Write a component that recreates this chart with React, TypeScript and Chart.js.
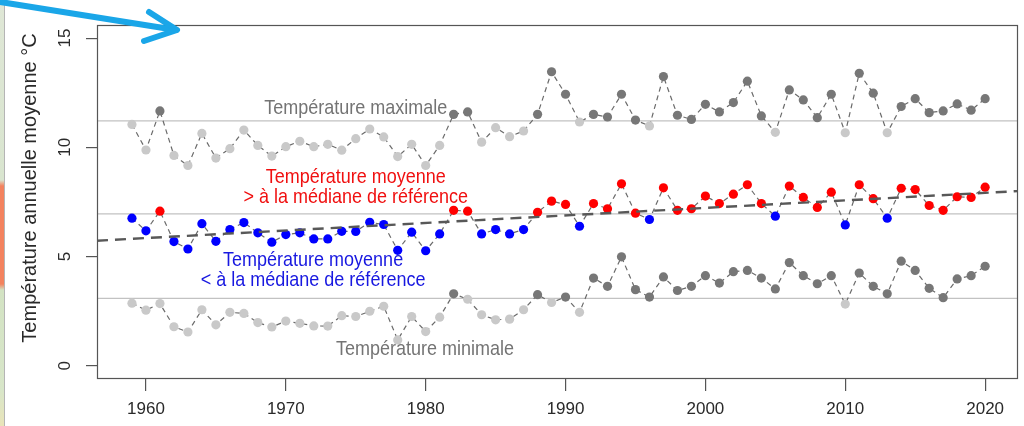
import React, { useEffect, useRef } from "react";
import { Chart, registerables } from "chart.js";

Chart.register(...registerables);

// ---------- DATA ----------
const years = [
  1959, 1960, 1961, 1962, 1963, 1964, 1965, 1966, 1967, 1968, 1969, 1970, 1971, 1972, 1973,
  1974, 1975, 1976, 1977, 1978, 1979, 1980, 1981, 1982, 1983, 1984, 1985, 1986, 1987, 1988,
  1989, 1990, 1991, 1992, 1993, 1994, 1995, 1996, 1997, 1998, 1999, 2000, 2001, 2002, 2003,
  2004, 2005, 2006, 2007, 2008, 2009, 2010, 2011, 2012, 2013, 2014, 2015, 2016, 2017, 2018,
  2019, 2020,
];

const tMax = [
  11.05, 9.88, 11.67, 9.63, 9.17, 10.64, 9.51, 9.94, 10.79, 10.09, 9.6, 10.03, 10.28, 10.03, 10.14,
  9.87, 10.4, 10.84, 10.48, 9.58, 10.14, 9.17, 10.09, 11.51, 11.62, 10.24, 10.9, 10.49, 10.75, 11.51,
  13.46, 12.43, 11.16, 11.51, 11.39, 12.43, 11.25, 10.98, 13.24, 11.47, 11.28, 11.97, 11.62, 12.05, 13.03,
  11.44, 10.69, 12.63, 12.17, 11.36, 12.43, 10.67, 13.39, 12.48, 10.67, 11.87, 12.23, 11.59, 11.67, 11.99,
  11.7, 12.23,
];

const tMean = [
  6.76, 6.18, 7.08, 5.69, 5.35, 6.51, 5.7, 6.24, 6.56, 6.09, 5.66, 6.01, 6.09, 5.81, 5.81,
  6.16, 6.15, 6.57, 6.47, 5.29, 6.12, 5.27, 6.04, 7.12, 7.08, 6.04, 6.24, 6.04, 6.24, 7.03,
  7.54, 7.39, 6.39, 7.43, 7.19, 8.33, 6.99, 6.7, 8.15, 7.12, 7.19, 7.77, 7.43, 7.86, 8.29,
  7.43, 6.85, 8.23, 7.71, 7.25, 7.95, 6.45, 8.29, 7.65, 6.76, 8.13, 8.07, 7.34, 7.12, 7.74,
  7.71, 8.18,
];

const tMin = [
  2.87, 2.55, 2.85, 1.79, 1.55, 2.57, 1.88, 2.45, 2.4, 1.98, 1.78, 2.05, 1.95, 1.83, 1.82,
  2.3, 2.26, 2.5, 2.73, 1.19, 2.26, 1.57, 2.23, 3.3, 3.05, 2.34, 2.11, 2.14, 2.57, 3.26,
  2.9, 3.15, 2.45, 4.02, 3.64, 4.99, 3.49, 3.15, 4.07, 3.45, 3.64, 4.13, 3.79, 4.31, 4.37,
  4.02, 3.52, 4.73, 4.13, 3.76, 4.13, 2.83, 4.25, 3.64, 3.3, 4.79, 4.37, 3.55, 3.12, 3.98,
  4.13, 4.56,
];

// reference (median) levels
const refMax = 11.21;
const refMean = 6.96;
const refMin = 3.09;

// linear trend of the mean temperature (end points at the plot edges)
const trendYears = [1956.5, 2022.35];
const trendValues = [5.73, 8.0];

const xTicks = [1960, 1970, 1980, 1990, 2000, 2010, 2020];
const yTicks = [0, 5, 10, 15];

const yTitle = "Température annuelle moyenne °C";
const labelMax = "Température maximale";
const labelMeanAbove = ["Température moyenne", "> à la médiane de référence"];
const labelMeanBelow = ["Température moyenne", "< à la médiane de référence"];
const labelMin = "Température minimale";

// ---------- STYLE ----------
const FONT = '"Liberation Sans", Arial, Helvetica, sans-serif';
const X_MIN = 1956.5;
const X_MAX = 2022.35;
const Y_MIN = -0.6;
const Y_MAX = 15.6;
const GREY_LIGHT = "#c9c9c9";
const GREY_DARK = "#777777";
const RED = "#ff0000";
const BLUE = "#0000ff";

const pts = (vals: number[]) => years.map((x, i) => ({ x, y: vals[i] }));
const hline = (v: number) => [
  { x: X_MIN, y: v },
  { x: X_MAX, y: v },
];

const seriesStyle = (colors: string[]) => ({
  borderColor: "#6a6a6a",
  borderWidth: 1.2,
  borderDash: [5, 4],
  pointRadius: 4.6,
  pointHoverRadius: 4.6,
  pointBackgroundColor: colors,
  pointBorderColor: colors,
  pointBorderWidth: 0,
  tension: 0,
  fill: false,
  order: 2,
});

const refStyle = {
  borderColor: "#c2c2c2",
  borderWidth: 1.3,
  pointRadius: 0,
  fill: false,
  order: 3,
};

const annotationPlugin = {
  id: "annotations",
  afterDraw(chart: any) {
    const { ctx, chartArea, scales } = chart;
    const xs = scales.x;
    const ys = scales.y;
    ctx.save();
    // box
    ctx.strokeStyle = "#555555";
    ctx.lineWidth = 1.2;
    ctx.strokeRect(
      chartArea.left + 0.5,
      chartArea.top + 0.5,
      chartArea.right - chartArea.left - 1,
      chartArea.bottom - chartArea.top - 1
    );
    // y tick labels (rotated, R style)
    ctx.fillStyle = "#2a2a2a";
    ctx.font = `17px ${FONT}`;
    ctx.textAlign = "center";
    ctx.textBaseline = "middle";
    yTicks.forEach((v) => {
      const py = ys.getPixelForValue(v);
      ctx.save();
      ctx.translate(65, py);
      ctx.rotate(-Math.PI / 2);
      ctx.fillText(String(v), 0, 0);
      ctx.restore();
    });
    // y title
    ctx.save();
    ctx.font = `20px ${FONT}`;
    ctx.translate(30, 188);
    ctx.rotate(-Math.PI / 2);
    ctx.fillText(yTitle, 0, 0);
    ctx.restore();

    // in-plot labels (slightly taller glyphs, like the source)
    ctx.textAlign = "center";
    ctx.textBaseline = "alphabetic";
    ctx.font = `18px ${FONT}`;
    const put = (text: string, xv: number, yv: number, color: string) => {
      ctx.save();
      ctx.fillStyle = color;
      ctx.translate(xs.getPixelForValue(xv), ys.getPixelForValue(yv));
      ctx.scale(1, 1.08);
      ctx.fillText(text, 0, 0);
      ctx.restore();
    };
    put(labelMax, 1975.0, 11.53, "#747474");
    put(labelMeanAbove[0], 1975.0, 8.37, "#f01010");
    put(labelMeanAbove[1], 1975.0, 7.46, "#f01010");
    put(labelMeanBelow[0], 1971.95, 4.57, "#1818e0");
    put(labelMeanBelow[1], 1971.95, 3.66, "#1818e0");
    put(labelMin, 1979.95, 0.5, "#747474");
    ctx.restore();
  },
};

export default function App() {
  const canvasRef = useRef<HTMLCanvasElement>(null);

  useEffect(() => {
    const maxColors = tMax.map((v) => (v > refMax ? GREY_DARK : GREY_LIGHT));
    const minColors = tMin.map((v) => (v > refMin ? GREY_DARK : GREY_LIGHT));
    const meanColors = tMean.map((v) => (v > refMean ? RED : BLUE));

    const chart = new Chart(canvasRef.current as HTMLCanvasElement, {
      type: "line",
      data: {
        datasets: [
          { label: "trend", data: trendYears.map((x, i) => ({ x, y: trendValues[i] })), borderColor: "#585858", borderWidth: 2.4, borderDash: [11, 7], pointRadius: 0, fill: false, order: 1 } as any,
          { label: "max", data: pts(tMax), ...seriesStyle(maxColors) } as any,
          { label: "mean", data: pts(tMean), ...seriesStyle(meanColors) } as any,
          { label: "min", data: pts(tMin), ...seriesStyle(minColors) } as any,
          { label: "refMax", data: hline(refMax), ...refStyle } as any,
          { label: "refMean", data: hline(refMean), ...refStyle } as any,
          { label: "refMin", data: hline(refMin), ...refStyle } as any,
        ],
      },
      options: {
        responsive: false,
        animation: false,
        events: [],
        layout: { padding: { left: 0, right: 6, top: 25, bottom: 0 } },
        plugins: {
          legend: { display: false },
          tooltip: { enabled: false },
          title: { display: false },
        },
        scales: {
          x: {
            type: "linear",
            min: X_MIN,
            max: X_MAX,
            afterBuildTicks: (s: any) => {
              s.ticks = xTicks.map((v) => ({ value: v }));
            },
            afterFit: (s: any) => {
              s.height = 47;
            },
            grid: {
              display: true,
              drawOnChartArea: false,
              drawTicks: true,
              tickLength: 12,
              color: "#555555",
              lineWidth: 1.2,
            },
            border: { display: false },
            ticks: {
              autoSkip: false,
              maxRotation: 0,
              minRotation: 0,
              padding: 8,
              color: "#2a2a2a",
              font: { family: FONT, size: 17 },
              callback: (v: any) => String(v),
            },
          },
          y: {
            type: "linear",
            min: Y_MIN,
            max: Y_MAX,
            afterBuildTicks: (s: any) => {
              s.ticks = yTicks.map((v) => ({ value: v }));
            },
            afterFit: (s: any) => {
              s.width = 97;
            },
            grid: {
              display: true,
              drawOnChartArea: false,
              drawTicks: true,
              tickLength: 11,
              color: "#555555",
              lineWidth: 1.2,
            },
            border: { display: false },
            ticks: { display: false },
          },
        },
      } as any,
      plugins: [annotationPlugin],
    });
    return () => chart.destroy();
  }, []);

  return (
    <div
      style={{
        position: "fixed",
        left: 0,
        top: 0,
        width: 1024,
        height: 426,
        background: "#ffffff",
        overflow: "hidden",
      }}
    >
      <canvas
        ref={canvasRef}
        width={1024}
        height={426}
        style={{ position: "absolute", left: 0, top: 0, width: 1024, height: 426 }}
      />
      <div
        style={{
          position: "absolute",
          left: 0,
          top: 0,
          width: 4,
          height: 426,
          background:
            "linear-gradient(to bottom, #dfe7d6 0px, #d9e5cf 180px, #f3825e 186px, #f3825e 284px, #d3e3c3 290px, #d8e6c9 390px, #e9e4b9 426px)",
        }}
      />
      <div
        style={{
          position: "absolute",
          left: 4,
          top: 0,
          width: 1,
          height: 426,
          background: "#b5b5b5",
        }}
      />
      <svg
        width={200}
        height={50}
        style={{ position: "absolute", left: 0, top: 0, overflow: "visible" }}
      >
        <line x1={-6} y1={1} x2={176} y2={30} stroke="#1aa6e8" strokeWidth={6} strokeLinecap="round" />
        <polyline
          points="149,12 177,30 144,41"
          fill="none"
          stroke="#1aa6e8"
          strokeWidth={6}
          strokeLinecap="round"
          strokeLinejoin="round"
        />
      </svg>
    </div>
  );
}
